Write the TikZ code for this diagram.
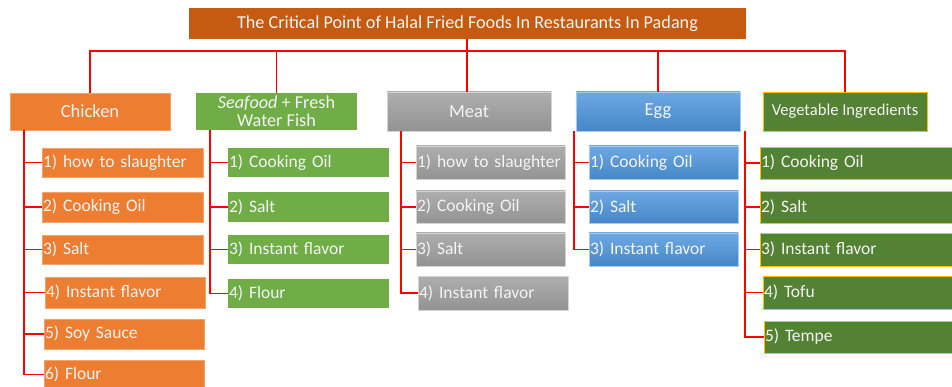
\documentclass[tikz,border=0pt]{standalone}
\usepackage{fontspec}
\setmainfont{Carlito}
\definecolor{titlec}{HTML}{C55A11}
\definecolor{chickc}{HTML}{ED7D31}
\definecolor{seac}{HTML}{70AD47}
\definecolor{meattop}{HTML}{AEAEAE}
\definecolor{meatbot}{HTML}{939393}
\definecolor{meatedge}{HTML}{D4D4D4}
\definecolor{eggtop}{HTML}{6DA8E2}
\definecolor{eggbot}{HTML}{4687C8}
\definecolor{eggedge}{HTML}{A9CBEA}
\definecolor{vegc}{HTML}{548235}
\definecolor{vegedge}{HTML}{FFC000}
\definecolor{txtc}{HTML}{F4F4F4}
\definecolor{linec}{HTML}{FF0000}
\begin{document}
\begin{tikzpicture}[x=1pt,y=-1pt,
  base/.style={anchor=north west, inner sep=0pt, outer sep=0pt, text=txtc, font=\fontsize{17.5}{20}\selectfont},
  catbox/.style={base, align=center, font=\fontsize{18.5}{21}\selectfont},
  itembox/.style={base, align=left},
  chick/.style={fill=chickc, draw=chickc!70!white, line width=0.4pt},
  sea/.style={fill=seac},
  meat/.style={top color=meattop, bottom color=meatbot, draw=meatedge, line width=0.6pt},
  egg/.style={top color=eggtop, bottom color=eggbot, draw=eggedge, line width=0.6pt},
  veg/.style={fill=vegc, draw=vegedge, line width=0.7pt},
  conn/.style={draw=linec, line width=1.6pt},
]
\useasboundingbox (0,0) rectangle (952,387);

% title
\node[catbox, fill=titlec, minimum width=557pt, minimum height=31pt, font=\fontsize{18.2}{21}\selectfont] (title) at (189,8) {The Critical Point of Halal Fried Foods In Restaurants In Padang};

% categories
\node[catbox, chick, minimum width=160pt, minimum height=37pt] (chicken) at (10,93) {Chicken};
\node[catbox, sea, minimum width=161pt, minimum height=37pt, font=\fontsize{18.2}{18.5}\selectfont] (sea) at (196,93) {\textit{Seafood} + Fresh\\Water Fish};
\node[catbox, meat, minimum width=164pt, minimum height=39pt] (meat) at (387,92) {Meat};
\node[catbox, egg, minimum width=164pt, minimum height=39pt] (egg) at (576,92) {Egg};
\node[catbox, veg, minimum width=164pt, minimum height=39pt, font=\fontsize{16.6}{19}\selectfont] (veg) at (763,92) {Vegetable Ingredients};

% chicken items
\node[itembox, chick, minimum width=161pt, minimum height=29pt, text width=159pt] (c1) at (42,148) {1) how to slaughter};
\node[itembox, chick, minimum width=161pt, minimum height=30pt, text width=159pt] (c2) at (42,192) {2) Cooking Oil};
\node[itembox, chick, minimum width=161pt, minimum height=29pt, text width=159pt] (c3) at (42,235) {3) Salt};
\node[itembox, chick, minimum width=160pt, minimum height=31pt, text width=158pt] (c4) at (45,277) {4) Instant flavor};
\node[itembox, chick, minimum width=160pt, minimum height=30pt, text width=158pt] (c5) at (44,319) {5) Soy Sauce};
\node[itembox, chick, minimum width=160pt, minimum height=29pt, text width=158pt] (c6) at (44,360) {6) Flour};

% seafood items
\node[itembox, sea, minimum width=161pt, minimum height=29pt, text width=159pt] (s1) at (228,148) {1) Cooking Oil};
\node[itembox, sea, minimum width=161pt, minimum height=30pt, text width=159pt] (s2) at (228,192) {2) Salt};
\node[itembox, sea, minimum width=161pt, minimum height=29pt, text width=159pt] (s3) at (228,235) {3) Instant flavor};
\node[itembox, sea, minimum width=161pt, minimum height=29pt, text width=159pt] (s4) at (228,279) {4) Flour};

% meat items
\node[itembox, meat, minimum width=149pt, minimum height=33pt, text width=147pt] (m1) at (416,146) {1) how to slaughter};
\node[itembox, meat, minimum width=149pt, minimum height=32pt, text width=147pt] (m2) at (416,191) {2) Cooking Oil};
\node[itembox, meat, minimum width=149pt, minimum height=33pt, text width=147pt] (m3) at (416,233) {3) Salt};
\node[itembox, meat, minimum width=150pt, minimum height=34pt, text width=148pt] (m4) at (418,276) {4) Instant flavor};

% egg items
\node[itembox, egg, minimum width=149pt, minimum height=33pt, text width=147pt] (e1) at (589,146) {1) Cooking Oil};
\node[itembox, egg, minimum width=149pt, minimum height=32pt, text width=147pt] (e2) at (589,191) {2) Salt};
\node[itembox, egg, minimum width=149pt, minimum height=33pt, text width=147pt] (e3) at (589,233) {3) Instant flavor};

% vegetable items
\node[itembox, veg, minimum width=196pt, minimum height=32pt, text width=194pt] (v1) at (760,147) {1) Cooking Oil};
\node[itembox, veg, minimum width=196pt, minimum height=32pt, text width=194pt] (v2) at (760,191) {2) Salt};
\node[itembox, veg, minimum width=196pt, minimum height=33pt, text width=194pt] (v3) at (760,233) {3) Instant flavor};
\node[itembox, veg, minimum width=193pt, minimum height=33pt, text width=191pt] (v4) at (763,276) {4) Tofu};
\node[itembox, veg, minimum width=192pt, minimum height=32pt, text width=190pt] (v5) at (764,321) {5) Tempe};

% top connectors
\coordinate (bus) at (0,51);
\draw[conn] (chicken.north) |- (veg.north |- bus) -- (veg.north);
\draw[conn] (sea.north) -- (sea.north |- bus);
\draw[conn] (egg.north) -- (egg.north |- bus);
\draw[conn] (title.south -| 467,0) -- (467,92);

% trunks
\coordinate (ct) at (24,130);
\coordinate (st) at (210,130);
\coordinate (mt) at (401,131);
\coordinate (et) at (574,131);
\coordinate (vt) at (745,131);
\foreach \n in {c1,c2,c3,c4,c5,c6} \draw[conn] (ct) |- (\n.west);
\foreach \n in {s1,s2,s3,s4} \draw[conn] (st) |- (\n.west);
\foreach \n in {m1,m2,m3,m4} \draw[conn] (mt) |- (\n.west);
\foreach \n in {e1,e2,e3} \draw[conn] (et) |- (\n.west);
\foreach \n in {v1,v2,v3,v4,v5} \draw[conn] (vt) |- (\n.west);
\end{tikzpicture}
\end{document}
